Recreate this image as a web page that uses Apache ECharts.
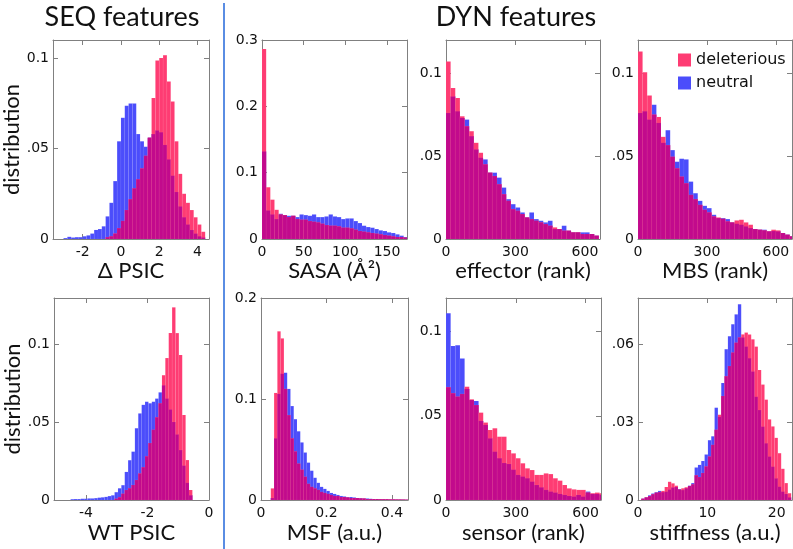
<!DOCTYPE html>
<html><head><meta charset="utf-8">
<script src="https://cdn.jsdelivr.net/npm/echarts@6/dist/echarts.min.js"></script>
<style>html,body{margin:0;padding:0;background:#fff}#c{width:793px;height:549px}</style>
</head><body><div id="c"></div>
<script>
// ---------------- DATA ----------------
const seriesNames = ['deleterious', 'neutral'];
const axisNames = ['Δ PSIC', 'SASA (Å²)', 'effector (rank)', 'MBS (rank)', 'WT PSIC', 'MSF (a.u.)', 'sensor (rank)', 'stiffness (a.u.)'];

// histogram bins: first bin start and bin width for each panel
const binStart = [-3.0, 0, 0, 0, -4.61, 0.03, 0, 0];
const binWidth = [0.2, 5, 20, 20, 0.11, 0.01, 20, 0.48];

// panel 1: delta PSIC
const neu1 = [0.0005,0.0012,0.0008,0.001,0.001,0.0015,0.002,0.003,0.005,0.0055,0.007,0.0125,0.02,0.032,0.054,0.067,0.0736,0.0749,0.0749,0.058,0.054,0.051,0.056,0.058,0.06,0.059,0.052,0.044,0.035,0.026,0.018,0.012,0.008,0.005,0.003,0.0015,0.0008];
const del1 = [0,0,0,0,0,0,0,0,0,0,0,0.001,0.0015,0.003,0.006,0.01,0.016,0.022,0.028,0.033,0.039,0.046,0.056,0.078,0.0987,0.1,0.1016,0.087,0.076,0.054,0.036,0.025,0.02,0.016,0.012,0.008,0.004];
// panel 2: SASA
const neu2 = [0.132,0.043,0.037,0.03,0.038,0.036,0.035,0.035,0.033,0.037,0.036,0.035,0.037,0.033,0.033,0.034,0.037,0.034,0.033,0.03,0.031,0.031,0.027,0.024,0.02,0.018,0.017,0.015,0.013,0.012,0.01,0.009,0.007,0.005,0.003];
const del2 = [0.2864,0.078,0.0593,0.044,0.037,0.036,0.033,0.035,0.03,0.029,0.029,0.027,0.026,0.025,0.023,0.021,0.02,0.02,0.019,0.017,0.017,0.016,0.014,0.012,0.011,0.01,0.009,0.008,0.007,0.006,0.005,0.004,0.003,0.003,0.002];
// panel 3: effector
const neu3 = [0.076,0.086,0.077,0.073,0.072,0.062,0.054,0.049,0.048,0.040,0.040,0.037,0.031,0.024,0.021,0.019,0.016,0.013,0.016,0.012,0.011,0.010,0.011,0.006,0.006,0.008,0.005,0.004,0.004,0.004,0.004,0.003,0.002];
const del3 = [0.107,0.091,0.085,0.074,0.068,0.065,0.058,0.052,0.045,0.040,0.038,0.033,0.027,0.023,0.018,0.017,0.015,0.013,0.012,0.011,0.010,0.009,0.008,0.007,0.006,0.005,0.005,0.004,0.004,0.003,0.003,0.003,0.002];
// panel 4: MBS
const neu4 = [0.076,0.077,0.072,0.081,0.07,0.058,0.0656,0.0536,0.0466,0.0484,0.048,0.0346,0.0276,0.023,0.02,0.0186,0.0146,0.0126,0.0126,0.012,0.01,0.0092,0.0086,0.0076,0.0066,0.006,0.0056,0.0056,0.0046,0.0048,0.0046,0.0036,0.0026,0.0016];
const del4 = [0.113,0.1006,0.0866,0.075,0.0736,0.0616,0.0566,0.0496,0.0426,0.0376,0.0336,0.0266,0.024,0.0206,0.0176,0.016,0.0136,0.013,0.0122,0.0106,0.01,0.0112,0.0116,0.01,0.0086,0.006,0.0056,0.0052,0.0046,0.0056,0.0052,0.0036,0.0026,0.0016];
// panel 5: WT PSIC
const neu5 = [0,0.0005,0.0006,0.0006,0.0008,0.0008,0.001,0.001,0.0012,0.0015,0.0017,0.002,0.0025,0.003,0.005,0.0075,0.0095,0.018,0.0255,0.031,0.046,0.0555,0.061,0.063,0.062,0.063,0.065,0.069,0.0735,0.065,0.058,0.05,0.042,0.032,0.022,0.011,0.003];
const del5 = [0,0,0,0,0,0,0,0,0,0,0,0,0,0,0.0008,0.0017,0.004,0.0064,0.0075,0.0096,0.0128,0.017,0.021,0.028,0.0365,0.045,0.053,0.062,0.080,0.091,0.107,0.1235,0.107,0.093,0.0545,0.0256,0.0064];
// panel 6: MSF
const neu6 = [0.002,0.061,0.105,0.125,0.126,0.11,0.093,0.08,0.068,0.057,0.047,0.037,0.029,0.022,0.017,0.013,0.011,0.009,0.007,0.006,0.005,0.004,0.0035,0.003,0.003,0.0025,0.002,0.002,0.0015,0.0015,0.0012,0.001,0.001,0.001,0.0008,0.0008,0.0006,0.0006,0.0005,0.0005,0.0004,0.0003];
const del6 = [0.0115,0.106,0.167,0.16,0.11,0.084,0.061,0.048,0.036,0.03,0.023,0.016,0.013,0.0115,0.01,0.008,0.007,0.006,0.005,0.004,0.004,0.003,0.003,0.0025,0.002,0.002,0.002,0.0015,0.0015,0.001,0.001,0.001,0.001,0.0008,0.0008,0.0008,0.0006,0.0006,0.0006,0.0005,0.0005,0.0004];
// panel 7: sensor
const neu7 = [0.111,0.0915,0.092,0.084,0.066,0.0594,0.0588,0.047,0.0446,0.0366,0.0287,0.0248,0.022,0.0214,0.018,0.0149,0.0139,0.0129,0.0109,0.0089,0.0075,0.006,0.005,0.0044,0.0036,0.003,0.0024,0.002,0.003,0.002,0.005,0.0036,0.0036,0.003];
const del7 = [0.067,0.0634,0.0614,0.063,0.0673,0.0598,0.0564,0.0519,0.046,0.0416,0.0426,0.0376,0.0376,0.0297,0.0277,0.0248,0.0218,0.0188,0.0178,0.0149,0.0149,0.0158,0.0154,0.0129,0.0115,0.0089,0.0069,0.0063,0.006,0.006,0.0044,0.004,0.0044,0.004];
// panel 8: stiffness
const neu8 = [0,0.0005,0.001,0.0018,0.0025,0.003,0.0035,0.003,0.0032,0.004,0.0048,0.005,0.0042,0.0038,0.0045,0.0055,0.0065,0.0125,0.0135,0.015,0.0175,0.023,0.0245,0.0355,0.032,0.045,0.058,0.063,0.0676,0.0714,0.0753,0.0625,0.059,0.0545,0.0494,0.0397,0.0346,0.0282,0.0218,0.0167,0.0128,0.0083,0.0051,0.0032,0.0023,0.001];
const del8 = [0,0.0005,0.001,0.0015,0.0022,0.0028,0.003,0.0035,0.005,0.007,0.0064,0.0055,0.004,0.0045,0.0049,0.0054,0.006,0.0095,0.0088,0.0104,0.0129,0.0167,0.0212,0.027,0.0328,0.04,0.0476,0.0515,0.0567,0.0605,0.0625,0.0637,0.0644,0.0637,0.0618,0.059,0.05,0.0444,0.0386,0.031,0.0283,0.0239,0.018,0.012,0.0065,0.0026];

// tick values and labels
const xTicks = [[-2,0,2,4],[0,50,100,150],[0,300,600],[0,300,600],[-4,-2,0],[0,0.2,0.4],[0,300,600],[0,10,20]];
const yTicks = [[0,0.05,0.1],[0,0.1,0.2,0.3],[0,0.05,0.1],[0,0.05,0.1],[0,0.05,0.1],[0,0.1,0.2],[0,0.05,0.1],[0,0.03,0.06]];
const yTickLabels = [['0','.05','0.1'],['0','0.1','0.2','0.3'],['0','.05','0.1'],['0','.05','0.1'],['0','.05','0.1'],['0','0.1','0.2'],['0','.05','0.1'],['0','.03','.06']];

const delAll = [del1,del2,del3,del4,del5,del6,del7,del8];
const neuAll = [neu1,neu2,neu3,neu4,neu5,neu6,neu7,neu8];

// ---------------- LAYOUT / STYLE ----------------
const layout = [
  {left:53, top:40, width:156, height:199, xMin:-3.55, xMax:4.6, yMax:0.11},
  {left:262, top:40, width:145, height:199, xMin:0, xMax:174, yMax:0.3},
  {left:446, top:40, width:154, height:199, xMin:0, xMax:665, yMax:0.12},
  {left:638, top:40, width:154, height:199, xMin:0, xMax:670, yMax:0.12},
  {left:54, top:298, width:155, height:202, xMin:-5.04, xMax:0, yMax:0.1295},
  {left:261, top:298, width:147, height:202, xMin:0, xMax:0.449, yMax:0.2},
  {left:446, top:298, width:155, height:202, xMin:0, xMax:666, yMax:0.12},
  {left:638, top:298, width:154, height:202, xMin:0, xMax:22.2, yMax:0.0777}
];
const PINK = '#fe3c73', BLUE = '#4b4dfb', PURPLE = '#c20a8c';
const FRAME = '#808080';
const tickFont = {fontFamily:'DejaVu Sans', fontSize:14, color:'#111'};
const nameFont = {fontFamily:'Lato', fontSize:22, color:'#111'};

function barRect(api, params, x0, x1, v, color) {
  if (!(v > 0)) return null;
  const a = api.coord([x0, 0]), b = api.coord([x1, v]);
  const cs = params.coordSys;
  const shape = echarts.graphic.clipRectByRect(
    {x:a[0], y:b[1], width:b[0]-a[0], height:a[1]-b[1]},
    {x:cs.x, y:cs.y, width:cs.width, height:cs.height});
  if (!shape) return null;
  return {type:'rect', shape, style:{fill:color, stroke:'rgba(255,255,255,0.09)', lineWidth:0.5}};
}
function renderNeutral(params, api) {
  const r = barRect(api, params, api.value(0), api.value(1), api.value(2), BLUE);
  return r || {type:'group', children:[]};
}
function renderDeleterious(params, api) {
  const d = api.value(2), n = api.value(3);
  const children = [];
  const p = barRect(api, params, api.value(0), api.value(1), d, PINK);
  if (p) children.push(p);
  const m = barRect(api, params, api.value(0), api.value(1), Math.min(d, n), PURPLE);
  if (m) children.push(m);
  return {type:'group', children};
}

const grid = [], xAxis = [], yAxis = [], series = [];
layout.forEach((L, i) => {
  grid.push({left:L.left, top:L.top, width:L.width, height:L.height, containLabel:false, outerBoundsMode:'none'});
  const common = {gridIndex:i, type:'value', splitLine:{show:false},
    axisLine:{show:true, onZero:false, lineStyle:{color:FRAME, width:1}}};
  const xt = xTicks[i], yt = yTicks[i], yl = yTickLabels[i];
  xAxis.push(Object.assign({}, common, {position:'bottom', min:L.xMin, max:L.xMax,
    name:axisNames[i], nameLocation:'middle', nameGap: i < 4 ? 19 : 22, nameTextStyle:nameFont,
    axisTick:{show:true, inside:true, length:5, customValues:xt, lineStyle:{color:FRAME}},
    axisLabel:{show:true, customValues:xt, margin:6, ...tickFont, formatter:v => String(v)}}));
  xAxis.push(Object.assign({}, common, {position:'top', min:L.xMin, max:L.xMax,
    axisTick:{show:true, inside:true, length:5, customValues:xt, lineStyle:{color:FRAME}},
    axisLabel:{show:false}}));
  const yName = (i === 0 || i === 4) ? 'distribution' : '';
  yAxis.push(Object.assign({}, common, {position:'left', min:0, max:L.yMax,
    name:yName, nameLocation:'middle', nameGap:29, nameTextStyle:nameFont,
    axisTick:{show:true, inside:true, length:5, customValues:yt, lineStyle:{color:FRAME}},
    axisLabel:{show:true, customValues:yt, margin:4, ...tickFont,
      formatter:v => { const k = yt.findIndex(t => Math.abs(t - v) < 1e-9); return k >= 0 ? yl[k] : ''; }}}));
  yAxis.push(Object.assign({}, common, {position:'right', min:0, max:L.yMax,
    axisTick:{show:true, inside:true, length:5, customValues:yt, lineStyle:{color:FRAME}},
    axisLabel:{show:false}}));

  const b0 = binStart[i], w = binWidth[i];
  const neu = neuAll[i], del = delAll[i];
  series.push({type:'custom', name:seriesNames[1], xAxisIndex:2*i, yAxisIndex:2*i,
    itemStyle:{color:BLUE}, renderItem:renderNeutral, encode:{x:[0,1], y:2},
    data: neu.map((v, k) => [b0 + k*w, b0 + (k+1)*w, v])});
  series.push({type:'custom', name:seriesNames[0], xAxisIndex:2*i, yAxisIndex:2*i,
    itemStyle:{color:PINK}, renderItem:renderDeleterious, encode:{x:[0,1], y:2},
    data: del.map((v, k) => [b0 + k*w, b0 + (k+1)*w, v, neu[k]])});
});

const chart = echarts.init(document.getElementById('c'), null, {renderer:'canvas'});
chart.setOption({
  animation:false,
  backgroundColor:'#fff',
  grid, xAxis, yAxis, series,
  legend:{data:seriesNames, orient:'vertical', left:678, top:52, padding:0, itemWidth:13, itemHeight:13, itemGap:7,
    icon:'rect', textStyle:{fontFamily:'DejaVu Sans', fontSize:16, color:'#111'}},
  graphic:[
    {type:'line', shape:{x1:224, y1:3, x2:224, y2:549}, style:{stroke:'#5a8de3', lineWidth:2}},
    {type:'text', x:122, y:17, style:{text:'SEQ features', fontFamily:'Lato', fontSize:27, fill:'#111', textAlign:'center', textVerticalAlign:'middle'}},
    {type:'text', x:516, y:17, style:{text:'DYN features', fontFamily:'Lato', fontSize:27, fill:'#111', textAlign:'center', textVerticalAlign:'middle'}}
  ]
});
</script></body></html>
